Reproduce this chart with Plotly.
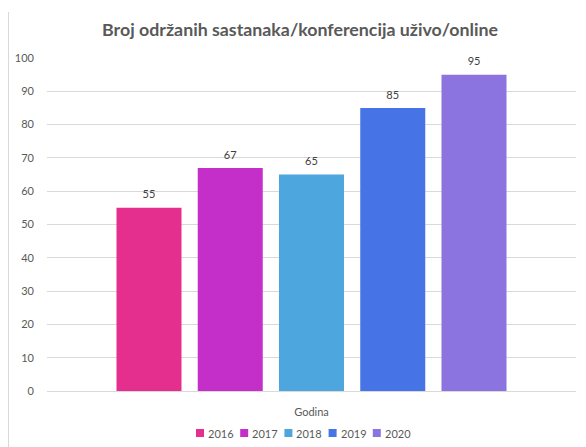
import plotly.graph_objects as go

years = ["2016", "2017", "2018", "2019", "2020"]
values = [55, 67, 65, 85, 95]
category = ["Godina"]
colors = ["#E52F8E", "#C52FC9", "#4DA6DD", "#4674E6", "#8B73E0"]

OFF = 8  # default page body margin
W, H = 586 - OFF, 447 - OFF
ml, mr, mt, mb = 47 - OFF, 10, 58 - OFF, 56
pw, ph = W - ml - mr, H - mt - mb

def px(x):
    return (x - OFF - ml) / pw

def py(y):
    return (H - mb - (y - OFF)) / ph

fig = go.Figure()
for yr, v, c in zip(years, values, colors):
    fig.add_trace(go.Bar(
        x=category, y=[v], name=yr, marker=dict(color=c, line=dict(width=0)),
        offsetgroup=yr, showlegend=False,
    ))
for yr, v in zip(years, values):
    fig.add_trace(go.Scatter(
        x=category, y=[v], mode="markers+text", text=[str(v)], textposition="top center",
        marker=dict(size=9, color="rgba(0,0,0,0)"),
        textfont=dict(size=11, color="#404040", family="Lato"),
        offsetgroup=yr, showlegend=False, cliponaxis=False, hoverinfo="skip",
    ))

shapes = [
    dict(type="line", xref="paper", yref="paper", x0=px(8.5), x1=px(8.5), y0=py(12), y1=py(447),
         line=dict(color="#D9D9D9", width=1)),
]
annotations = []
leg_x0, leg_step, leg_y = 196, 44.2, 433
for i, (yr, c) in enumerate(zip(years, colors)):
    x = leg_x0 + i * leg_step
    shapes.append(dict(type="rect", xref="paper", yref="paper",
                       x0=px(x), x1=px(x + 8), y0=py(leg_y + 4), y1=py(leg_y - 4),
                       fillcolor=c, line=dict(width=0)))
    annotations.append(dict(xref="paper", yref="paper", x=px(x + 10), y=py(leg_y),
                            text=yr, showarrow=False, xanchor="left", yanchor="middle",
                            font=dict(size=11, color="#595959", family="Lato")))

fig.update_layout(
    width=W, height=H,
    margin=dict(l=ml, r=mr, t=mt, b=mb),
    paper_bgcolor="white", plot_bgcolor="white",
    barmode="group", bargap=0.232, bargroupgap=0.2,
    scattermode="group", scattergap=0.232,
    font=dict(family="Lato", color="#595959", size=11),
    title=dict(text="<b>Broj održanih sastanaka/konferencija uživo/online</b>",
               x=(300 - OFF) / W, xanchor="center", y=1 - (30 - OFF) / H, yanchor="middle",
               font=dict(size=17.8, color="#595959", family="Lato")),
    showlegend=False,
    xaxis=dict(showgrid=False, showline=False, ticks="", automargin=False,
               ticklabelstandoff=13, tickfont=dict(size=11, color="#595959")),
    yaxis=dict(range=[0, 100], dtick=10, showgrid=True, gridcolor="#D9D9D9", gridwidth=1,
               zeroline=True, zerolinecolor="#D9D9D9", zerolinewidth=1,
               showline=False, ticks="", ticklabelstandoff=12, automargin=False,
               tickfont=dict(size=11, color="#595959")),
    shapes=shapes,
    annotations=annotations,
)

fig.write_html("out.html")
